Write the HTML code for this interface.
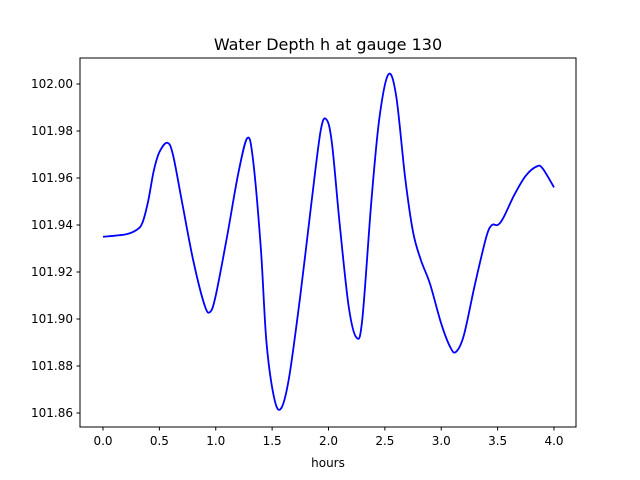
<!DOCTYPE html>
<html><head><meta charset="utf-8"><style>
body{margin:0;background:#fff;}
svg{display:block;font-family:"DejaVu Sans","Liberation Sans",sans-serif;}
</style></head><body>
<svg id="chart" width="640" height="480">
<rect width="640" height="480" fill="#fff"/>
<text x="328" y="50" font-size="16" text-anchor="middle">Water Depth h at gauge 130</text>
<g id="ticks"></g>
<path id="line" fill="none" stroke="#0000ff" stroke-width="1.8" stroke-linejoin="round"/>
<rect x="80" y="58" width="496" height="369" fill="none" stroke="#000" stroke-width="1"/>
<text x="328" y="467" font-size="12" text-anchor="middle">hours</text>
</svg>
<script>
const hours=[0,0.2,0.3,0.35,0.4,0.45,0.5,0.57,0.62,0.7,0.8,0.9,0.95,1.0,1.1,1.2,1.28,1.33,1.4,1.45,1.52,1.58,1.65,1.75,1.85,1.93,1.98,2.03,2.1,2.18,2.25,2.3,2.38,2.45,2.53,2.6,2.68,2.75,2.82,2.9,3.0,3.08,3.13,3.2,3.3,3.4,3.45,3.5,3.55,3.65,3.75,3.85,3.9,4.0];
const depth=[101.935,101.936,101.938,101.941,101.950,101.963,101.971,101.975,101.970,101.950,101.925,101.906,101.903,101.910,101.935,101.962,101.977,101.968,101.930,101.890,101.866,101.862,101.875,101.910,101.950,101.980,101.985,101.975,101.940,101.905,101.892,101.900,101.950,101.985,102.004,101.995,101.960,101.937,101.925,101.915,101.898,101.888,101.886,101.893,101.915,101.935,101.940,101.940,101.943,101.953,101.961,101.965,101.964,101.956];
const xTicks=[0,0.5,1.0,1.5,2.0,2.5,3.0,3.5,4.0];
const yTicks=[101.86,101.88,101.90,101.92,101.94,101.96,101.98,102.00];
const X=h=>103+h*112.75;
const Y=v=>84+(102.00-v)/0.02*47;
const NS='http://www.w3.org/2000/svg';
const g=document.getElementById('ticks');
function mk(t,a){const e=document.createElementNS(NS,t);for(const k in a)e.setAttribute(k,a[k]);g.appendChild(e);return e;}
xTicks.forEach(t=>{
 const l=mk('line',{x1:X(t),x2:X(t),y1:427,y2:430.5,stroke:'#000'});
 
 
 const s=mk('text',{x:X(t),y:445,'font-size':12,'text-anchor':'middle'});
 s.textContent=t.toFixed(1);
 
 
});
yTicks.forEach(t=>{
 const l=mk('line',{x1:76.5,x2:80,y1:Y(t),y2:Y(t),stroke:'#000'});
 
 
 const s=mk('text',{x:73,y:Y(t)+4,'font-size':12,'text-anchor':'end'});
 s.textContent=t.toFixed(2);
 
 
});
// Catmull-Rom smooth path
const P=hours.map((h,i)=>[X(h),Y(depth[i])]);
let d='M'+P[0][0]+','+P[0][1];
for(let i=0;i<P.length-1;i++){
 const p0=P[Math.max(0,i-1)],p1=P[i],p2=P[i+1],p3=P[Math.min(P.length-1,i+2)];
 const c1=[p1[0]+(p2[0]-p0[0])/6,p1[1]+(p2[1]-p0[1])/6];
 const c2=[p2[0]-(p3[0]-p1[0])/6,p2[1]-(p3[1]-p1[1])/6];
 d+=` C${c1[0]},${c1[1]} ${c2[0]},${c2[1]} ${p2[0]},${p2[1]}`;
}
document.getElementById('line').setAttribute('d',d);
</script>
</body></html>
